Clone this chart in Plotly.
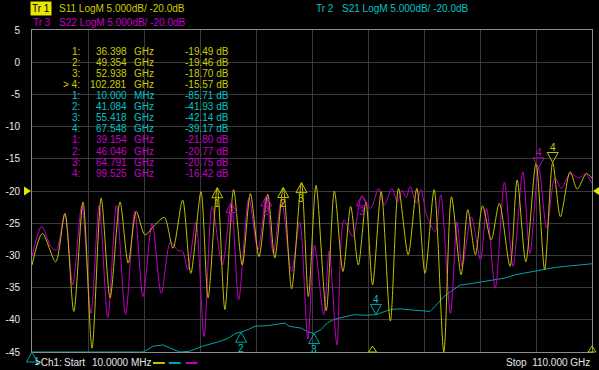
import numpy as np
import plotly.graph_objects as go

# ---------------- data ----------------
# S11 (Tr1, yellow) : frequency in GHz, magnitude in dB
s11_f = [0.01, 2.06, 4.66, 6.47, 8.22, 10.03, 11.8, 13.6, 15.35, 17.3, 18.9, 20.5, 22.2, 24.1,
         26.0, 27.7, 29.6, 31.2, 33.2, 34.6, 36.4, 37.9, 39.6, 41.3, 42.9, 44.6, 46.3, 47.7,
         49.35, 51.0, 52.94, 54.3, 55.8, 57.8, 59.4, 61.1, 62.6, 64.1, 65.6, 66.9, 68.6, 70.4,
         72.0, 73.9, 75.6, 77.2, 79.0, 80.9, 82.4, 84.3, 85.6, 87.1, 88.5, 90.2, 91.8, 93.9,
         95.3, 97.0, 99.0, 100.7, 102.28, 103.8, 105.7, 107.1, 108.9, 110.0]
s11_db = [-31.5, -26.6, -31.0, -23.5, -38.7, -21.7, -44.4, -21.1, -36.6, -21.7, -31.2, -23.2, -26.8, -25.3,
          -24.1, -28.9, -21.4, -32.8, -20.1, -36.6, -19.5, -38.4, -19.8, -31.5, -20.4, -30.2, -20.5, -30.4,
          -19.5, -35.2, -18.7, -36.4, -19.1, -38.6, -20.0, -32.5, -22.4, -31.5, -21.7, -34.6, -20.1, -40.2,
          -19.6, -29.9, -19.6, -32.8, -19.8, -45.0, -20.9, -33.0, -22.9, -29.9, -22.3, -27.6, -21.9, -31.7,
          -18.3, -31.0, -15.7, -32.2, -15.6, -24.0, -17.0, -19.7, -17.3, -18.0]

# S22 (Tr3, magenta)
s22_f = [0.01, 1.9, 3.7, 4.8, 6.47, 8.0, 9.8, 11.6, 13.2, 14.9, 16.6, 18.4, 20.2, 21.8, 23.6,
         25.4, 27.2, 28.6, 29.6, 30.6, 32.2, 33.8, 35.4, 37.4, 39.15, 40.6, 42.6, 44.4, 46.05,
         47.4, 49.0, 51.0, 52.6, 54.2, 55.5, 57.3, 58.4, 59.9, 61.3, 63.0, 64.79, 66.5, 68.1,
         69.2, 70.7, 71.8, 72.7, 73.5, 74.3, 75.5, 76.4, 77.5, 79.2, 80.3, 82.2, 83.5, 84.5,
         86.3, 88.1, 89.3, 91.0, 92.8, 94.5, 96.4, 97.8, 99.53, 101.1, 102.7, 104.0, 105.7,
         107.5, 108.6, 110.0]
s22_db = [-30.2, -25.5, -28.6, -29.2, -23.5, -34.6, -22.2, -39.0, -22.2, -39.7, -22.2, -39.2, -23.1, -36.4, -25.0,
          -35.9, -27.9, -29.2, -29.4, -32.2, -24.8, -42.6, -22.4, -31.5, -21.8, -36.9, -21.1, -29.1, -20.8,
          -29.7, -21.4, -32.5, -24.8, -43.0, -28.4, -39.2, -29.3, -43.9, -24.5, -27.1, -20.8, -22.7, -19.6,
          -22.2, -19.6, -21.7, -19.9, -21.0, -19.3, -21.9, -19.8, -23.7, -26.3, -20.6, -39.0, -24.8, -31.7,
          -24.0, -30.7, -22.7, -35.1, -18.6, -31.7, -17.0, -29.7, -16.4, -25.8, -18.0, -19.6, -17.3,
          -18.0, -17.3, -18.8]

# S21 (Tr2, cyan) - values at the bottom edge are below the display (clamped at -45)
s21_f = [0.01, 5.0, 10.0, 15.0, 20.0, 21.8, 23.0, 23.8, 25.7, 27.0, 29.0, 30.9, 33.5, 36.7, 38.5,
         40.0, 41.08, 42.5, 43.8, 46.4, 48.5, 49.7, 50.5, 52.9, 54.2, 55.42, 56.8, 58.0, 59.4,
         61.0, 63.3, 65.5, 67.55, 70.4, 72.4, 75.0, 78.2, 79.2, 80.9, 82.3, 84.1, 86.0, 88.5,
         91.1, 93.0, 95.0, 97.5, 100.2, 102.5, 104.8, 107.5, 110.0]
s21_db = [-45.0, -45.0, -45.0, -45.0, -45.0, -45.0, -44.5, -44.1, -43.9, -44.3, -45.0, -44.9, -44.1, -43.4, -42.9,
          -42.1, -41.9, -41.5, -41.0, -40.9, -40.7, -40.5, -41.0, -41.3, -41.9, -42.1, -41.5, -40.5, -39.9,
          -39.6, -39.2, -39.3, -39.2, -38.4, -38.3, -38.5, -38.7, -37.9, -36.4, -35.6, -34.6, -34.4, -34.1,
          -33.8, -33.5, -33.0, -32.6, -32.2, -31.9, -31.7, -31.5, -31.3]

# marker readouts
s11_mk_f = [36.398, 49.354, 52.938, 102.281]
s11_mk_db = [-19.49, -19.46, -18.70, -15.57]
s21_mk_f = [0.010, 41.084, 55.418, 67.548]
s21_mk_db = [-85.71, -41.93, -42.14, -39.17]
s22_mk_f = [39.154, 46.046, 64.791, 99.525]
s22_mk_db = [-21.80, -20.77, -20.75, -16.42]
s11_bottom_flags_f = [66.9, 110.0]

y_ticks = [5, 0, -5, -10, -15, -20, -25, -30, -35, -40, -45]
f_start, f_stop = 0.01, 110.0
y_top, y_bottom = 5, -45
ref_level = -20.0
# -------------------------------------------------------------------

W, H = 599, 370
L, R, T, B = 28, 6, 30, 18
PW, PH = W - L - R, H - T - B
FONT = "Liberation Sans, Arial, sans-serif"

YEL_T, YEL = "#cccc00", "#c2c200"
CYA_T, CYA = "#00c4c4", "#00a4a4"
MAG_T, MAG = "#c800c8", "#c000c0"
WHITE = "#e6e6e6"


def px(xp):
    return (xp - L) / PW


def py(yp):
    return (H - B - yp) / PH


def fpaper(f):
    return (f - f_start) / (f_stop - f_start)


def txt(x, y, s, color, xanchor="left", size=10, **kw):
    return dict(xref="paper", yref="paper", x=px(x), y=py(y), text=s, showarrow=False,
                xanchor=xanchor, yanchor="middle", font=dict(family=FONT, size=size, color=color), **kw)


fig = go.Figure()
for f, d, c, sh in [(s21_f, s21_db, CYA, "linear"), (s22_f, s22_db, MAG, "spline"), (s11_f, s11_db, YEL, "spline")]:
    fig.add_trace(go.Scatter(x=f, y=np.clip(d, y_bottom, y_top), mode="lines",
                             line=dict(color=c, width=1, shape=sh, smoothing=0.8),
                             hoverinfo="skip", showlegend=False))

shapes = []
annotations = []


def add_marker(f, db, num, color, tcolor, active):
    inside = db >= y_bottom
    w, h = 5.5, 10
    if active:
        path = f"M0,0 L{-w},{h} L{w},{h} Z"
        shift = 15
    else:
        path = f"M0,0 L{-w},{-h} L{w},{-h} Z"
        shift = -16
    if inside:
        shapes.append(dict(type="path", xref="x", yref="y", xsizemode="pixel", ysizemode="pixel",
                           xanchor=f, yanchor=db, path=path, line=dict(color=color, width=1)))
        annotations.append(dict(xref="x", yref="y", x=f, y=db, yshift=shift, text=str(num), showarrow=False,
                                font=dict(family=FONT, size=10, color=tcolor)))
    else:
        shapes.append(dict(type="path", xref="paper", yref="paper", xsizemode="pixel", ysizemode="pixel",
                           xanchor=fpaper(f), yanchor=0, path=path, line=dict(color=color, width=1)))
        annotations.append(dict(xref="paper", yref="paper", x=fpaper(f), y=0, yshift=-17, text=str(num),
                                showarrow=False, font=dict(family=FONT, size=10, color=tcolor)))


for mf, mdb, col, tcol in [(s11_mk_f, s11_mk_db, YEL, YEL_T), (s21_mk_f, s21_mk_db, CYA, CYA_T),
                           (s22_mk_f, s22_mk_db, MAG, MAG_T)]:
    for i in range(4):
        add_marker(mf[i], mdb[i], i + 1, col, tcol, i == 3)

for f in s11_bottom_flags_f:
    shapes.append(dict(type="path", xref="paper", yref="paper", xsizemode="pixel", ysizemode="pixel",
                       xanchor=fpaper(f), yanchor=0, path="M0,6 L-4,0 L4,0 Z", line=dict(color=YEL, width=1)))

# reference level arrows
shapes.append(dict(type="path", xref="paper", yref="y", xsizemode="pixel", ysizemode="pixel",
                   xanchor=0, yanchor=ref_level, path="M-1,0 L-8,4.5 L-8,-4.5 Z",
                   line=dict(color="#e6e600", width=0), fillcolor="#e6e600"))
shapes.append(dict(type="path", xref="paper", yref="y", xsizemode="pixel", ysizemode="pixel",
                   xanchor=1, yanchor=ref_level, path="M1,0 L7,4 L7,-4 Z",
                   line=dict(color="#e6e600", width=0), fillcolor="#e6e600"))

# marker table
rows = []
for lab, mf, mdb, col in [("S11", s11_mk_f, s11_mk_db, YEL_T), ("S21", s21_mk_f, s21_mk_db, CYA_T),
                          ("S22", s22_mk_f, s22_mk_db, MAG_T)]:
    for i in range(4):
        num = "> 4:" if (lab == "S11" and i == 3) else f"{i + 1}:"
        rows.append((num, mf[i], mdb[i], col))
for r, (num, f, db, col) in enumerate(rows):
    y = 51.5 + 11.06 * r
    if f < 1:
        fs, unit = f"{f * 1000:.3f}", "MHz"
    else:
        fs, unit = f"{f:.3f}", "GHz"
    annotations.append(txt(78, y, num, col, xanchor="right"))
    annotations.append(txt(125.5, y, fs, col, xanchor="right"))
    annotations.append(txt(129, y, unit, col))
    annotations.append(txt(228.5, y, f"{db:.2f} dB", col, xanchor="right"))

# header
annotations.append(txt(26, 9, "Tr 1", "#000000", bgcolor="#e6e600", borderpad=1))
annotations.append(txt(53, 9, "S11 LogM 5.000dB/ -20.0dB", YEL_T))
annotations.append(txt(27, 23, "Tr 3", MAG_T))
annotations.append(txt(53, 23, "S22 LogM 5.000dB/ -20.0dB", MAG_T))
annotations.append(txt(313, 9, "Tr 2", CYA_T))
annotations.append(txt(339, 9, "S21 LogM 5.000dB/ -20.0dB", CYA_T))

# footer
annotations.append(txt(29, 362, ">Ch1:", WHITE))
annotations.append(txt(58, 362, "Start", WHITE))
annotations.append(txt(87, 362, "10.0000 MHz", WHITE))
annotations.append(txt(593, 362, "Stop  110.000 GHz", WHITE, xanchor="right"))
for x0, c in [(150, YEL), (166, CYA), (183, MAG)]:
    shapes.append(dict(type="line", xref="paper", yref="paper", x0=px(x0), x1=px(x0 + 12),
                       y0=py(363), y1=py(363), line=dict(color=c, width=2)))

fig.update_layout(
    width=W, height=H, margin=dict(l=L, r=R, t=T, b=B),
    paper_bgcolor="#000000", plot_bgcolor="#000000",
    shapes=shapes, annotations=annotations,
    xaxis=dict(range=[f_start, f_stop], tick0=f_start, dtick=(f_stop - f_start) / 10,
               showgrid=True, gridcolor="#3a3a3a", gridwidth=1, zeroline=False,
               showticklabels=False, ticks="", showline=True, linecolor="#8c8c8c", mirror=True),
    yaxis=dict(range=[y_bottom, y_top], tickvals=y_ticks, ticktext=[str(v) for v in y_ticks],
               showgrid=True, gridcolor="#3a3a3a", gridwidth=1, zeroline=False, ticks="",
               ticklabelstandoff=9, tickfont=dict(family=FONT, size=10, color=WHITE),
               showline=True, linecolor="#8c8c8c", mirror=True),
    font=dict(family=FONT),
)

fig.write_html("out.html", config={"displayModeBar": False},
               post_script="document.body.style.margin='0';document.body.style.background='#000';")
